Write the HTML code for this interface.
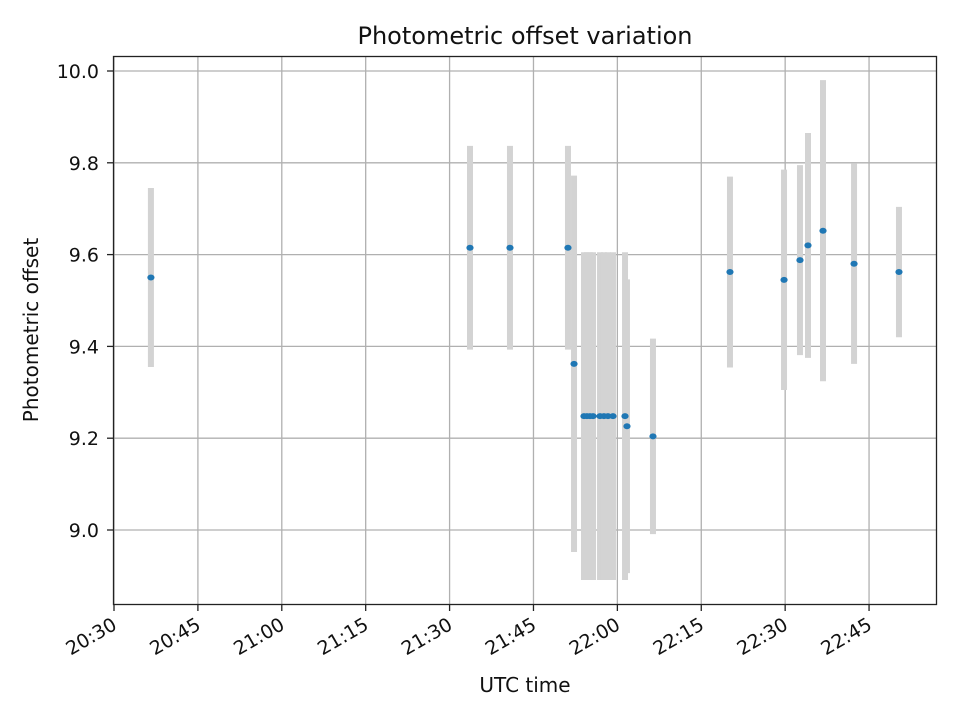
<!DOCTYPE html>
<html><head><meta charset="utf-8"><style>
html,body{margin:0;padding:0;background:#fff;}
svg{display:block;font-family:"DejaVu Sans","Liberation Sans",sans-serif;}
</style></head><body>
<svg id="chart" width="960" height="720" viewBox="0 0 960 720">
<rect width="960" height="720" fill="#fff"/>
<g id="grid"></g>
<g id="bars"></g>
<g id="pts"></g>
<rect x="113.5" y="56.5" width="823" height="548" fill="none" stroke="#222" stroke-width="1.3"/>
<g id="axes"></g>
<text x="525" y="44" text-anchor="middle" font-size="24" fill="#111">Photometric offset variation</text>
<text x="525" y="692" text-anchor="middle" font-size="20" fill="#111">UTC time</text>
<text transform="translate(38,330) rotate(-90)" text-anchor="middle" font-size="20" fill="#111">Photometric offset</text>
</svg>
<script>
const times = ["20:36:36","21:33:39","21:40:48","21:51:10","21:52:15","21:54:02","21:54:34","21:55:06","21:55:39","21:56:54","21:57:36","21:58:19","21:59:13","22:01:22","22:01:43","22:06:22","22:20:08","22:29:48","22:32:39","22:34:05","22:36:46","22:42:19","22:50:21"];
const offsets = [9.55,9.615,9.615,9.615,9.362,9.248,9.248,9.248,9.248,9.248,9.248,9.248,9.248,9.248,9.226,9.204,9.562,9.545,9.588,9.62,9.652,9.58,9.562];
const errors = [0.195,0.222,0.222,0.222,0.41,0.357,0.357,0.357,0.357,0.357,0.357,0.357,0.357,0.357,0.32,0.213,0.208,0.24,0.207,0.245,0.328,0.218,0.142];
const xTickLabels = ["20:30","20:45","21:00","21:15","21:30","21:45","22:00","22:15","22:30","22:45"];
const yTickLabels = ["9.0","9.2","9.4","9.6","9.8","10.0"];

const NS="http://www.w3.org/2000/svg";
function mins(s){const p=s.split(":").map(Number);return (p[0]-20)*60+p[1]-30+(p[2]||0)/60;}
function xs(s){return 114+5.593*mins(s);}
function ys(v){return 71+(10-v)*459;}
function mk(tag,attrs,parent){const e=document.createElementNS(NS,tag);for(const k in attrs)e.setAttribute(k,attrs[k]);parent.appendChild(e);return e;}
const grid=document.getElementById('grid'),axes=document.getElementById('axes'),bars=document.getElementById('bars'),pts=document.getElementById('pts');
xTickLabels.forEach(l=>{
  const x=xs(l);
  const g=mk('line',{x1:x,x2:x,y1:56,y2:605,stroke:'#b0b0b0','stroke-width':1.3},grid);
  
  
  const t=mk('line',{x1:x,x2:x,y1:605,y2:611,stroke:'#222','stroke-width':1.3},axes);
  
  
  const tx=mk('text',{transform:`translate(${x-3},${616}) rotate(-30)`,'text-anchor':'end','font-size':19,dy:'0.75em',fill:'#111'},axes);
  tx.textContent=l;
  
  
});
yTickLabels.forEach(l=>{
  const y=ys(parseFloat(l));
  const g=mk('line',{x1:113,x2:937,y1:y,y2:y,stroke:'#b0b0b0','stroke-width':1.3},grid);
  
  
  const t=mk('line',{x1:107,x2:113,y1:y,y2:y,stroke:'#222','stroke-width':1.3},axes);
  
  
  const tx=mk('text',{x:99,y:y+7,'text-anchor':'end','font-size':19,fill:'#111'},axes);
  tx.textContent=l;
  
  
});
times.forEach((s,i)=>{
  const x=xs(s);
  const b=mk('line',{x1:x,x2:x,y1:Math.max(56,ys(offsets[i]+errors[i])),y2:Math.min(605,ys(offsets[i]-errors[i])),stroke:'#d3d3d3','stroke-width':6},bars);
  
  
  const p=mk('ellipse',{cx:x,cy:ys(offsets[i]),rx:3.6,ry:3,fill:'#1f77b4'},pts);
  
  
});
</script>
</body></html>
